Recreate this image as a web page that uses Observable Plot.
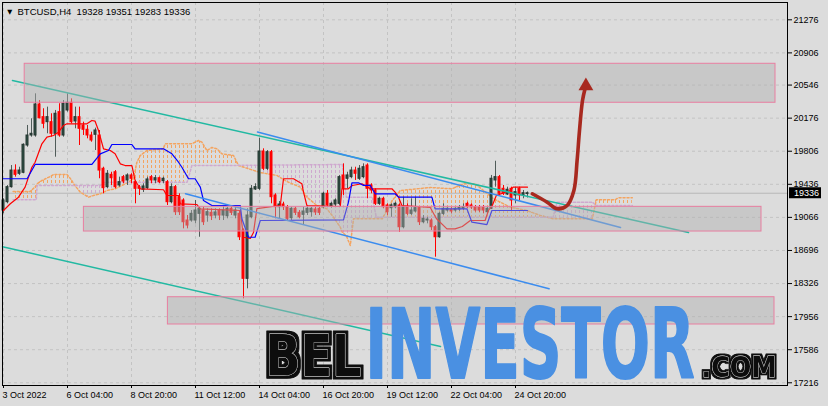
<!DOCTYPE html>
<html><head><meta charset="utf-8">
<script src="https://cdn.jsdelivr.net/npm/d3@7"></script>
<script src="https://cdn.jsdelivr.net/npm/@observablehq/plot@0.6"></script>
<style>
html,body{margin:0;padding:0;background:#dcdcdc;}
#chart{width:828px;height:406px;overflow:hidden;}
</style></head><body><div id="chart"></div>
<script>
// ---- candle data (H4 bars, index 0 = 3 Oct 2022 12:00) ----
const candleOpen  = [19143,19236,19404,19590,19554,19565,19870,19982,19982,20329,20187,20131,20131,20001,20243,19982,20262,20348,20139,20187,20094,20046,19982,19990,19982,19610,19404,19542,19571,19423,19516,19479,19535,19460,19404,19375,19393,19516,19479,19504,19471,19460,19236,19404,19292,19255,19031,19031,19031,19106,19143,19087,19117,19087,19143,19087,19079,19162,19087,19106,18919,18379,19068,19378,19386,19803,19610,19795,19311,19180,19210,19180,19057,19162,19117,19095,19117,19124,19154,19162,19180,19330,19188,19210,19218,19535,19498,19516,19590,19498,19516,19646,19423,19367,19218,19274,19199,19169,19180,19199,18956,19180,19106,19132,19169,19012,19031,19031,18956,18844,19106,19143,19154,19143,19154,19162,19218,19199,19180,19173,19173,19124,19162,19479,19516,19386,19322,19386,19311,19386,19311,19328];
const candleHigh  = [19274,19423,19646,19654,19627,19889,20094,20169,20448,20373,20281,20299,20225,20262,20337,20373,20448,20392,20299,20299,20131,20094,20019,20064,20038,19627,19590,19571,19590,19516,19535,19554,19554,19479,19423,19442,19516,19535,19535,19516,19516,19479,19442,19423,19330,19274,19087,19143,19255,19180,19180,19162,19162,19162,19162,19199,19180,19199,19180,19143,18938,19162,19423,19442,19952,19833,19814,19814,19330,19244,19236,19199,19180,19180,19143,19180,19199,19180,19180,19180,19348,19367,19236,19274,19535,19665,19571,19627,19627,19646,19665,19665,19442,19386,19292,19292,19218,19218,19236,19218,19292,19218,19274,19292,19180,19087,19068,19050,18975,19124,19218,19180,19180,19180,19199,19218,19236,19218,19199,19199,19199,19180,19535,19694,19535,19423,19404,19404,19404,19404,19367,19351];
const candleLow   = [19106,19218,19393,19516,19535,19554,19851,19963,19963,20169,20057,20001,19963,19739,19963,19963,20243,20113,20057,19870,19982,19945,19907,19814,19498,19330,19386,19423,19386,19404,19442,19423,19442,19218,19311,19344,19378,19442,19442,19442,19442,19199,19218,19087,19087,18938,18938,19012,18994,18844,18975,19012,19031,19050,19031,19031,19050,19087,19050,18807,18155,18267,19050,19367,19367,19590,19590,19218,19050,19050,19143,19031,19031,19087,19050,18975,19087,19068,19087,19087,19162,19180,19169,19180,19199,19311,19386,19498,19479,19479,19498,19274,19330,19199,19199,19162,19087,19068,19162,18900,18938,19087,19087,19117,18975,18994,18994,18919,18621,18833,19087,19124,19106,19124,19132,19143,19162,19154,19124,19121,19106,19106,19154,19404,19311,19311,19311,19143,19218,19255,19274,19283];
const candleClose = [19255,19404,19590,19542,19590,19878,19982,20001,20329,20175,20113,20187,20001,20225,19982,20337,20348,20131,20187,20057,20046,19982,19926,20038,19590,19393,19554,19504,19404,19460,19467,19535,19498,19386,19386,19412,19490,19479,19504,19460,19498,19236,19404,19124,19124,19012,18975,19106,19143,19162,19012,19124,19079,19121,19087,19143,19162,19117,19143,18844,18379,19087,19386,19404,19803,19610,19795,19292,19180,19210,19180,19050,19162,19117,19068,19132,19162,19162,19121,19117,19330,19199,19218,19255,19516,19386,19535,19590,19554,19610,19627,19386,19367,19218,19274,19180,19124,19199,19218,18956,19180,19106,19143,19169,19012,19050,19042,18956,18844,19106,19162,19162,19132,19162,19171,19180,19180,19177,19143,19143,19143,19162,19498,19516,19330,19330,19375,19255,19348,19311,19336,19336];

// ---- Ichimoku lines (bar index, price) ----
const tenkanIdx = [0,1.7,3.75,5.4,7.1,7.9,9.6,10.85,12.5,13.75,15,15.85,20.85,22.1,22.9,23.75,25,26.7,27.9,29.2,30.4,32.1,32.9,34.2,40,40.85,43.75,44.2,48.35,49.2,59.2,60,61.7,62.5,63.35,69.2,70,72.5,74.6,75,75.85,84.2,84.6,86.2,87.2,89.6,91.7,97.1,97.9,98.75,99.6,106.7,108.2,110.85,112.9,114.7,116.7,120.4,121.25,122.2,123.2,126.7,127.4,131];
const tenkanVal = [19143,19218,19292,19404,19627,19683,19889,19963,19982,20019,20094,20113,20113,20150,20142,20038,19833,19814,19777,19665,19646,19646,19479,19386,19375,19311,19311,19218,19210,19162,19143,18844,18830,18897,19165,19199,19498,19498,19442,19348,19199,19188,19386,19386,19423,19442,19386,19386,19348,19292,19199,19177,19054,18938,18938,18964,19031,19031,19143,19199,19311,19367,19404,19404];
const kijunIdx = [-0.25,5.9,7.9,22.1,24.2,26.25,27.1,32.1,32.9,40,42.1,43.75,44.6,46.25,47.9,49.2,50,52.1,59.2,59.6,61.25,62.9,64.2,85,86.25,87.1,88.75,90,91.7,92.9,97.9,98.75,107.1,107.9,115.85,117.1,120.85,122.1,131];
const kijunVal = [19498,19498,19658,19658,19777,19814,19881,19881,19833,19833,19777,19683,19627,19498,19498,19404,19255,19199,19199,19050,18844,18844,19031,19039,19236,19453,19453,19423,19423,19330,19330,19292,19292,19162,19162,19012,18986,19143,19143];
const cloudIdx = [2.4,6.7,8.2,8.4,9.6,11.7,12.5,15.85,17.1,17.5,19.2,21.25,22.5,24.2,25.4,25.85,27.9,29.6,31.25,32.5,33.35,34.2,35.85,37.5,40,40.4,45.9,47.1,47.9,48.75,49.6,50.85,52.1,53.35,54.6,57.5,58.75,64.2,68.35,70.85,74.2,75.85,78.35,80.85,82.5,84.2,84.7,85.7,85.85,86.7,87.5,92.2,93.2,94.7,97.2,99.2,106.7,112.1,115,117.9,120,122.5,126.7,130.85,134.2,137.4,138.4,147.2,148.2,152.9,153.7,157.2];
const spanA = [19356,19356,19420,19442,19479,19523,19546,19546,19479,19442,19348,19292,19311,19330,19355,19367,19386,19423,19460,19498,19683,19758,19814,19822,19833,19889,19889,19889,19907,19926,19907,19814,19848,19833,19777,19758,19646,19568,19535,19467,19404,19292,19199,19162,19068,18956,18900,18860,18844,18752,19050,19050,19050,19050,19255,19367,19400,19386,19442,19442,19367,19274,19180,19143,19087,19050,19050,19050,19263,19263,19285,19285];
const spanB = [19263,19263,19263,19423,19423,19423,19423,19423,19423,19423,19423,19423,19423,19423,19460,19460,19460,19460,19460,19460,19460,19460,19460,19460,19460,19460,19460,19646,19646,19646,19646,19646,19646,19646,19646,19646,19648,19650,19652,19652,19654,19654,19655,19656,19657,19658,19658,19292,19292,19292,19292,19292,19068,19068,19068,19068,19068,19068,19068,19068,19068,19068,19068,19068,19068,19068,19236,19236,19199,19199,19199,19199];

// ---- drawn objects ----
const tealIdx1 = [2.25, 171.25],  tealVal1 = [20597, 18897];
const tealIdx2 = [-0.25, 109.25], tealVal2 = [18738, 17622];
const blueIdx1 = [63.5, 154.25],  blueVal1 = [20021, 18953];
const blueIdx2 = [45.5, 136.4],   blueVal2 = [19330, 18267];
const boxStart = [5.3, 20.1, 41.1], boxEnd = [193, 189.5, 192.75];
const boxLow = [20348, 18908, 17868], boxHigh = [20784, 19184, 18173];
const arrowIdx = [132.2, 135.9, 138.4, 140.9, 142.6, 143.4, 144, 144.75, 145.4];
const arrowVal = [19330, 19236, 19162, 19199, 19367, 19702, 20038, 20373, 20508];
const arrowHeadIdx = [145.6], arrowHeadVal = [20535];

// ---- axes ----
const yTickVals = [17216,17586,17956,18326,18696,19066,19436,19806,20176,20546,20906,21276];
const xTickIdx = [0,16,32,48,64,80,96,112,128];
const xTickLabels = ["3 Oct 2022","6 Oct 04:00","8 Oct 20:00","11 Oct 12:00","14 Oct 04:00","16 Oct 20:00","19 Oct 12:00","22 Oct 04:00","24 Oct 20:00"];
const symbolLabel = "BTCUSD,H4";
const watermark = ["BEL", "INVESTOR", ".COM"];

// ---- build tables ----
const candles = candleOpen.map((o, i) => ({i, o, h: candleHigh[i], l: candleLow[i], c: candleClose[i], up: candleClose[i] >= o}));
const bull = candles.filter(d => d.up), bear = candles.filter(d => !d.up);
const last = candles[candles.length - 1];
const pts = (xs, ys, id) => xs.map((x, k) => ({x, y: ys[k], id}));
const tenkan = pts(tenkanIdx, tenkanVal), kijun = pts(kijunIdx, kijunVal);
const cloud = cloudIdx.map((i, k) => ({i, a: spanA[k], b: spanB[k]}));
const teal = [...pts(tealIdx1, tealVal1, 1), ...pts(tealIdx2, tealVal2, 2)];
const blueLines = [...pts(blueIdx1, blueVal1, 1), ...pts(blueIdx2, blueVal2, 2)];
const boxes = boxStart.map((s, k) => ({x1: s, x2: boxEnd[k], y1: boxLow[k], y2: boxHigh[k]}));
const arrow = pts(arrowIdx, arrowVal), arrowHead = pts(arrowHeadIdx, arrowHeadVal);
const title = `${symbolLabel}\u00a0\u00a0${last.o} ${last.h} ${last.l} ${last.c}`;

const grid = "#c3c3c3";
const font = "'Liberation Sans', Arial, sans-serif";
const chart = Plot.plot({
  width: 828, height: 406,
  marginLeft: 2, marginRight: 41, marginTop: 2, marginBottom: 21,
  style: {background: "#dcdcdc", color: "#000", fontFamily: font, fontSize: "9px", overflow: "visible"},
  x: {domain: [-0.25, 196], axis: "bottom", ticks: xTickIdx, tickFormat: d => xTickLabels[xTickIdx.indexOf(d)], tickSize: 3, tickPadding: 3, label: null},
  y: {domain: [17185.7, 21469.5], axis: "right", ticks: yTickVals, tickFormat: d => String(d), tickSize: 4, tickPadding: 2, label: null},
  marks: [
    Plot.ruleY(yTickVals, {stroke: grid, strokeDasharray: "3,3"}),
    Plot.ruleX(xTickIdx, {stroke: grid, strokeDasharray: "3,3"}),
    Plot.ruleY([last.c], {stroke: "#b8b8b8"}),
    Plot.areaY(cloud, {x: "i", y1: "b", y2: d => Math.max(d.a, d.b), fill: "url(#hatchUp)"}),
    Plot.areaY(cloud, {x: "i", y1: "a", y2: d => Math.max(d.a, d.b), fill: "url(#hatchDn)"}),
    Plot.line(cloud, {x: "i", y: "a", stroke: "#f4a460", strokeDasharray: "2,2"}),
    Plot.line(cloud, {x: "i", y: "b", stroke: "#cfa9cf", strokeDasharray: "2,2"}),
    Plot.ruleX(bull, {x: "i", y1: "l", y2: "h", stroke: "#505c59"}),
    Plot.ruleX(bear, {x: "i", y1: "l", y2: "h", stroke: "#ff0000"}),
    Plot.rect(bull, {x1: d => d.i - 0.25, x2: d => d.i + 0.25, y1: "o", y2: "c", fill: "#2f5247", stroke: "#25352f"}),
    Plot.rect(bear, {x1: d => d.i - 0.25, x2: d => d.i + 0.25, y1: "o", y2: "c", fill: "#ff0000", stroke: "#ff0000"}),
    Plot.line(tenkan, {x: "x", y: "y", stroke: "#ff0000", strokeWidth: 1.2}),
    Plot.line(kijun, {x: "x", y: "y", stroke: "#0000ff", strokeWidth: 1.2}),
    Plot.line(teal, {x: "x", y: "y", z: "id", stroke: "#22b9a2", strokeWidth: 1.5}),
    Plot.line(blueLines, {x: "x", y: "y", z: "id", stroke: "#3b8cef", strokeWidth: 1.5}),
    Plot.rect(boxes, {x1: "x1", x2: "x2", y1: "y1", y2: "y2", fill: "#b0b0b0", fillOpacity: 0.45, stroke: "#e87ea0", strokeWidth: 1}),
    Plot.line(arrow, {x: "x", y: "y", curve: "catmull-rom", stroke: "#a8291f", strokeWidth: 3.6, strokeLinecap: "round"}),
    Plot.dot(arrowHead, {x: "x", y: "y", symbol: "triangle", r: 5.5, fill: "#a8291f"}),
    // watermark
    Plot.text([watermark[0]], {frameAnchor: "bottom-left", dx: 263, dy: -10, lineAnchor: "bottom", textAnchor: "start", fontFamily: "DejaVu Sans", fontWeight: "bold", fontSize: 57.5, fill: "#111", stroke: "#c8c8c8", strokeWidth: 0.9}),
    Plot.text([watermark[1]], {frameAnchor: "bottom-left", dx: 363, dy: -8, lineAnchor: "bottom", textAnchor: "start", fontFamily: "DejaVu Sans", fontWeight: "bold", fontSize: 97, fill: "#4a90e2", stroke: "#4a90e2", strokeWidth: 2}),
    Plot.text([watermark[2]], {frameAnchor: "bottom-left", dx: 699, dy: -9, lineAnchor: "bottom", textAnchor: "start", fontFamily: "DejaVu Sans", fontWeight: "bold", fontSize: 28.8, fill: "#111", stroke: "#c8c8c8", strokeWidth: 0.8}),
    // header
    Plot.text(["\u25BC"], {frameAnchor: "top-left", dx: 7.3, dy: 9, textAnchor: "middle", lineAnchor: "middle", fontFamily: "DejaVu Sans", fontSize: 6.5, fill: "#000"}),
    Plot.text([title], {frameAnchor: "top-left", dx: 15, dy: 9, textAnchor: "start", lineAnchor: "middle", fontSize: 9.5, fill: "#000"}),
    Plot.frame({stroke: "#000"})
  ]
});

const NS = "http://www.w3.org/2000/svg";
const el = (name, attrs, parent) => { const e = document.createElementNS(NS, name); for (const k in attrs) e.setAttribute(k, attrs[k]); parent.appendChild(e); return e; };
// hatch patterns for the cloud + outline filter for the watermark
const defs = document.createElementNS(NS, "defs");
chart.insertBefore(defs, chart.firstChild);
[["hatchUp", "#f4a460"], ["hatchDn", "#cfa9cf"]].forEach(([id, col]) => {
  const p = el("pattern", {id, patternUnits: "userSpaceOnUse", x: 0, y: 0, width: 4, height: 5}, defs);
  el("rect", {x: 3, y: 0, width: 1, height: 3, fill: col}, p);
});
[["haloBig", 3], ["haloSmall", 2]].forEach(([id, r]) => {
  const f = el("filter", {id, x: "-20%", y: "-30%", width: "140%", height: "160%"}, defs);
  el("feMorphology", {in: "SourceAlpha", operator: "dilate", radius: r, result: "d"}, f);
  el("feFlood", {"flood-color": "#111", result: "c"}, f);
  el("feComposite", {in: "c", in2: "d", operator: "in", result: "o"}, f);
  const m = el("feMerge", {}, f);
  el("feMergeNode", {in: "o"}, m);
  el("feMergeNode", {in: "SourceGraphic"}, m);
});
// condensed watermark lettering
const fitLen = {"BEL": [96, "haloBig"], "INVESTOR": [329, null], ".COM": [75, "haloSmall"]};
chart.querySelectorAll("text").forEach(t => {
  const s = t.textContent;
  if (fitLen[s]) {
    t.setAttribute("textLength", fitLen[s][0]);
    t.setAttribute("lengthAdjust", "spacingAndGlyphs");
    if (fitLen[s][1]) t.setAttribute("filter", `url(#${fitLen[s][1]})`);
  }
  if (xTickLabels.includes(s)) { t.setAttribute("text-anchor", "start"); t.setAttribute("dx", "-1"); }
});
// current price marker on the price axis
const yPrice = chart.scale("y").apply(last.c);
const tag = el("g", {}, chart);
el("rect", {x: 789, y: yPrice - 5.5, width: 32, height: 11, fill: "#000"}, tag);
const tt = el("text", {x: 794, y: yPrice, dy: "0.34em", fill: "#ffffff", "font-family": font, "font-size": 9, "text-anchor": "start"}, tag);
tt.textContent = String(last.c);

document.getElementById("chart").appendChild(chart);
</script></body></html>
